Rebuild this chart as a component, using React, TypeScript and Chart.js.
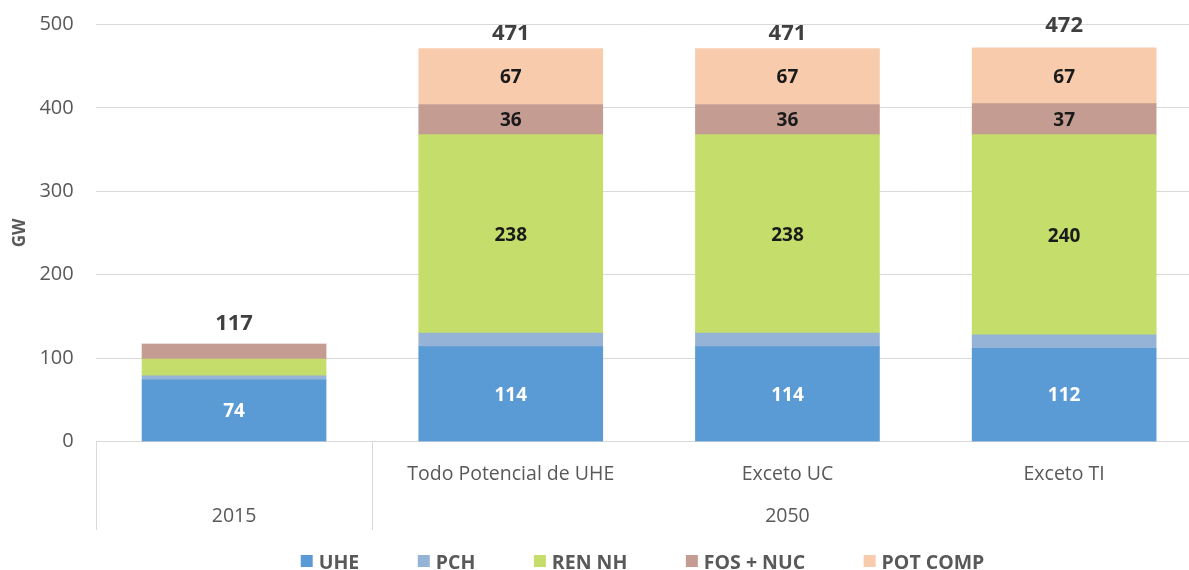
import React, { useEffect, useRef } from "react";
import { Chart, registerables } from "chart.js";

Chart.register(...registerables);

// ---- data ----
const subCategories = ["", "Todo Potencial de UHE", "Exceto UC", "Exceto TI"];
const groupLabels = ["2015", "2050"];
const groupSizes = [1, 3];
const seriesNames = ["UHE", "PCH", "REN NH", "FOS + NUC", "POT COMP"];
const uhe = [74, 114, 114, 112];
const pch = [5, 16, 16, 16];
const renNh = [20, 238, 238, 240];
const fosNuc = [18, 36, 36, 37];
const potComp = [0, 67, 67, 67];
const yTickValues = [0, 100, 200, 300, 400, 500];
const yTitle = "GW";

// ---- styles ----
const FONT = "'Open Sans', 'DejaVu Sans', sans-serif";
const seriesColors = ["#5b9bd5", "#95b3d7", "#c4dd6b", "#c59c92", "#f8cbad"];
const labelColors = ["#ffffff", "#1a1a1a", "#1a1a1a", "#1a1a1a", "#1a1a1a"];
const W = 1189;
const H = 570;
const AREA_LEFT = 95.7;
const AREA_TOP = 24.4;
const AREA_BOTTOM = 441.7;
const CAT_WIDTH = 276.7;
const BAR_WIDTH = 184;
const totalLift = [14, 8.6, 8.6, 15.6];

const allSeries = [uhe, pch, renNh, fosNuc, potComp];

const overlay = {
  id: "overlay",
  afterDatasetsDraw(chart: any) {
    const ctx = chart.ctx as CanvasRenderingContext2D;
    const xs = chart.scales.x;
    const ys = chart.scales.y;
    const area = chart.chartArea;
    ctx.save();

    // segment labels
    chart.data.datasets.forEach((ds: any, di: number) => {
      const meta = chart.getDatasetMeta(di);
      meta.data.forEach((bar: any, i: number) => {
        const v = allSeries[di][i];
        if (v < 30) return;
        const p = bar.getProps(["x", "y", "base"], true);
        const cy = (p.y + p.base) / 2;
        const size = 19;
        ctx.font = `bold ${size}px ${FONT}`;
        ctx.fillStyle = labelColors[di];
        ctx.textAlign = "center";
        ctx.textBaseline = "alphabetic";
        ctx.fillText(String(v), p.x, cy + size * 0.357);
      });
    });

    // totals
    subCategories.forEach((_, i) => {
      const total = allSeries.reduce((s, arr) => s + arr[i], 0);
      const x = xs.getPixelForValue(i);
      const y = ys.getPixelForValue(total);
      ctx.font = `bold 22px ${FONT}`;
      ctx.fillStyle = "#404040";
      ctx.textAlign = "center";
      ctx.textBaseline = "alphabetic";
      ctx.fillText(String(total), x, y - totalLift[i]);
    });

    // category axis: sub labels
    ctx.font = `19.5px ${FONT}`;
    ctx.fillStyle = "#595959";
    ctx.textAlign = "center";
    subCategories.forEach((lab, i) => {
      if (!lab) return;
      ctx.fillText(lab, xs.getPixelForValue(i), 479.5);
    });

    // group labels and dividers
    let start = 0;
    const bounds: number[] = [-0.5];
    groupLabels.forEach((g, gi) => {
      const n = groupSizes[gi];
      const center = start + (n - 1) / 2;
      ctx.fillText(g, xs.getPixelForValue(center), 522.3);
      start += n;
      bounds.push(start - 0.5);
    });
    ctx.strokeStyle = "#d9d9d9";
    ctx.lineWidth = 1;
    bounds.forEach((b) => {
      const x = Math.round(xs.getPixelForValue(b)) + 0.5;
      ctx.beginPath();
      ctx.moveTo(x, area.bottom);
      ctx.lineTo(x, 530);
      ctx.stroke();
    });

    // y title
    ctx.save();
    ctx.translate(20.5, 233);
    ctx.rotate(-Math.PI / 2);
    ctx.font = `bold 17px ${FONT}`;
    ctx.fillStyle = "#595959";
    ctx.textAlign = "center";
    ctx.textBaseline = "middle";
    ctx.fillText(yTitle, 0, 0);
    ctx.restore();

    // legend
    ctx.font = `bold 19.5px ${FONT}`;
    ctx.textAlign = "left";
    ctx.textBaseline = "alphabetic";
    let lx = 300.7;
    seriesNames.forEach((name, si) => {
      ctx.fillStyle = seriesColors[si];
      ctx.fillRect(lx, 555, 12, 12);
      ctx.fillStyle = "#595959";
      const tx = lx + 12 + 6;
      ctx.fillText(name, tx, 568.7);
      lx = tx + ctx.measureText(name).width + 58.5;
    });

    ctx.restore();
  },
};

export default function App() {
  const canvasRef = useRef<HTMLCanvasElement | null>(null);

  useEffect(() => {
    if (!canvasRef.current) return;
    const datasets = seriesNames.map((name, si) => ({
      label: name,
      data: allSeries[si].map((v, i) => ({ x: i, y: v })),
      backgroundColor: seriesColors[si],
      borderWidth: 0,
      barThickness: BAR_WIDTH,
    }));
    const chart = new Chart(canvasRef.current, {
      type: "bar",
      data: { datasets },
      options: {
        animation: false,
        responsive: false,
        events: [],
        layout: { padding: { top: AREA_TOP, left: 0, right: 0, bottom: 0 } },
        plugins: { legend: { display: false }, tooltip: { enabled: false }, title: { display: false } },
        scales: {
          x: {
            type: "linear",
            stacked: true,
            offset: false,
            min: -0.5,
            max: -0.5 + (W - AREA_LEFT) / CAT_WIDTH,
            ticks: { display: false },
            grid: { display: false },
            border: { display: false },
            afterFit: (s: any) => {
              s.height = H - AREA_BOTTOM;
              s.paddingLeft = 0;
              s.paddingRight = 0;
            },
          },
          y: {
            stacked: true,
            min: yTickValues[0],
            max: yTickValues[yTickValues.length - 1],
            afterBuildTicks: (s: any) => {
              s.ticks = yTickValues.map((v) => ({ value: v }));
            },
            ticks: {
              padding: 22,
              color: "#595959",
              font: { family: FONT, size: 20 },
            },
            grid: { color: "#d9d9d9", lineWidth: 1, drawTicks: false },
            border: { display: false },
            afterFit: (s: any) => {
              s.width = AREA_LEFT;
              s.paddingTop = 0;
              s.paddingBottom = 0;
            },
          },
        },
      },
      plugins: [overlay],
    } as any);
    return () => chart.destroy();
  }, []);

  return (
    <div style={{ position: "absolute", left: 0, top: 0, width: W, height: H, background: "#fff" }}>
      <canvas ref={canvasRef} width={W} height={H} style={{ display: "block" }} />
    </div>
  );
}
